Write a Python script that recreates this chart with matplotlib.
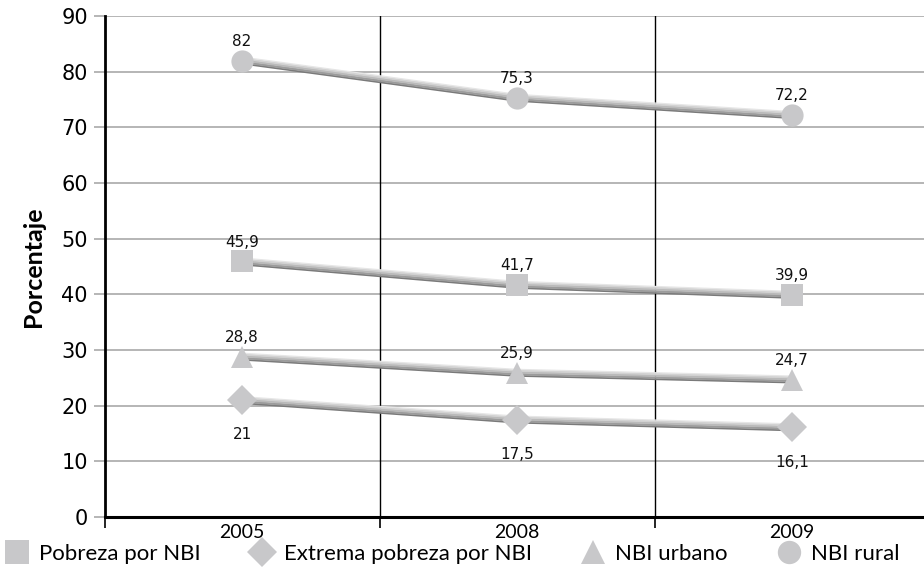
import matplotlib
matplotlib.use("Agg")
import matplotlib.pyplot as plt
import matplotlib.patheffects as pe
from matplotlib.lines import Line2D

years = ["2005", "2008", "2009"]
pobreza = [45.9, 41.7, 39.9]
extrema = [21, 17.5, 16.1]
urbano = [28.8, 25.9, 24.7]
rural = [82, 75.3, 72.2]
series_names = ["Pobreza por NBI", "Extrema pobreza por NBI", "NBI urbano", "NBI rural"]
yticks = list(range(0, 100, 10))

def fmt(v):
    return ("%g" % v).replace(".", ",")

fig = plt.figure(figsize=(9.24, 5.70), dpi=100)
ax = fig.add_axes([104.5/924, 1-517/570, 825/924, (517-16)/570])

x = list(range(len(years)))
ax.set_xlim(-0.5, 2.5)
ax.set_ylim(0, 90)

for t in yticks:
    ax.axhline(t, color="#b0b0b0", lw=1.3, zorder=1)
for b in [0.5, 1.5]:
    ax.axvline(b, color="black", lw=1.0, zorder=1)

line_fx = [
    pe.Stroke(linewidth=1.3, foreground="#7a7a7a", offset=(0, -2.2)),
    pe.Stroke(linewidth=1.7, foreground="#9c9c9c", offset=(0, -1.0)),
    pe.Stroke(linewidth=1.7, foreground="#bababa", offset=(0, 0.4)),
    pe.Stroke(linewidth=1.5, foreground="#d2d2d2", offset=(0, 1.6)),
    pe.Stroke(linewidth=0.9, foreground="#e6e6e6", offset=(0, 2.5)),
]
mcol = "#c8c8ca"
specs = [
    (pobreza, "s", 16.5, "above"),
    (extrema, "D", 15.0, "below"),
    (urbano, "^", 16.5, "above"),
    (rural, "o", 16.0, "above"),
]
handles = []
for (vals, mk, ms, pos), name in zip(specs, series_names):
    ln, = ax.plot(x, vals, color="#bababa", lw=4.0, zorder=3, solid_capstyle="butt")
    ln.set_path_effects(line_fx)
    ax.plot(x, vals, linestyle="none", marker=mk, markersize=ms, color=mcol,
            markeredgewidth=0, zorder=4, clip_on=False)
    for xi, v in zip(x, vals):
        dy = 14 if pos == "above" else -25
        ax.annotate(fmt(v), (xi, v), xytext=(0, dy), textcoords="offset points",
                    ha="center", va="center", fontsize=11, family="DejaVu Sans",
                    color="#111111")
    handles.append(Line2D([], [], linestyle="none", marker=mk, markersize=ms, color=mcol,
                          markeredgewidth=0, label=name))

for s in ["top", "right"]:
    ax.spines[s].set_visible(False)
ax.spines["left"].set_linewidth(2.0)
ax.spines["bottom"].set_linewidth(2.2)

ax.set_yticks(yticks)
ax.set_yticklabels([str(t) for t in yticks], fontsize=15, family="DejaVu Sans")
ax.tick_params(axis="y", length=8, width=1.3, color="#b0b0b0", pad=4)

ax.set_xticks([-0.5, 0.5, 1.5, 2.5])
ax.set_xticklabels([])
ax.set_xticks(x, minor=True)
ax.set_xticklabels(years, minor=True, fontsize=14, family="Lato")
ax.tick_params(axis="x", which="major", length=8, width=1.2, color="black", direction="out")
ax.tick_params(axis="x", which="minor", length=0, pad=5)

ax.set_ylabel("Porcentaje", fontsize=18, fontweight="bold", family="Lato", labelpad=12)

fig.legend(handles=handles, loc="center left", bbox_to_anchor=(0.0, 1-554/570), ncol=4,
           frameon=False, prop={"family": "Lato", "size": 16}, handlelength=1.1,
           handletextpad=0.45, columnspacing=2.2, borderaxespad=0, borderpad=0.2,
           markerscale=1.05)

fig.savefig("out.png", dpi=100)
